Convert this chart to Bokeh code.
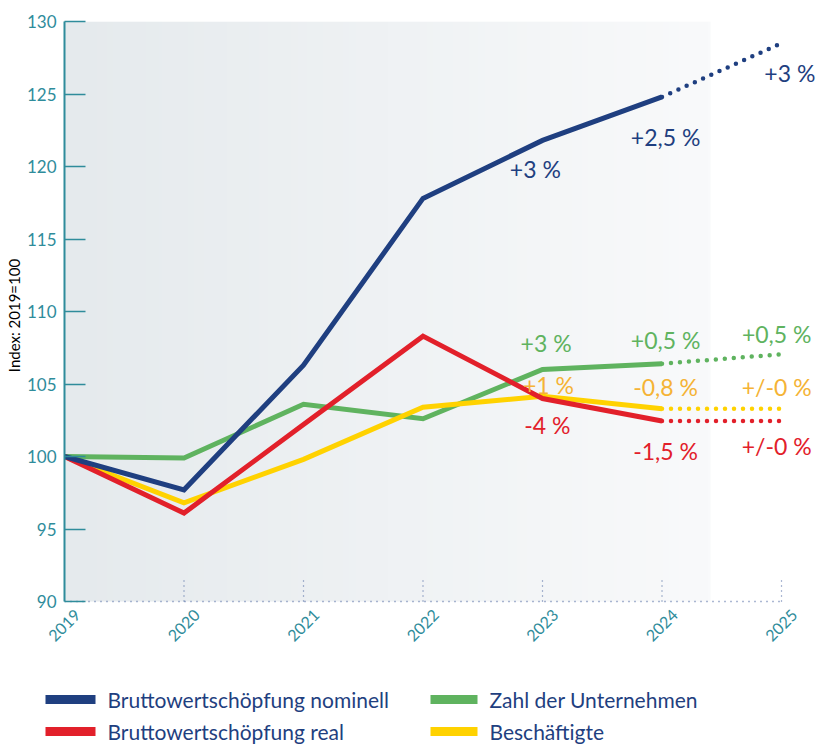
import numpy as np
from math import pi
from bokeh.plotting import figure
from bokeh.models import Range1d, FixedTicker, ColumnDataSource, LabelSet, Title
from bokeh.layouts import column
from bokeh.core.properties import value
from bokeh.embed import file_html
from bokeh.resources import INLINE

# ---------------- data ----------------
years = [2019, 2020, 2021, 2022, 2023, 2024, 2025]
year_labels = [str(y) for y in years]
bws_nominell = [100, 97.7, 106.3, 117.8, 121.8, 124.8, 128.5]
bws_real = [100, 96.1, 102.2, 108.3, 104.0, 102.45, 102.45]
unternehmen = [100, 99.9, 103.6, 102.6, 106.0, 106.4, 107.05]
beschaeftigte = [100, 96.8, 99.8, 103.4, 104.15, 103.3, 103.3]

series_names = ["Bruttowertschöpfung nominell", "Bruttowertschöpfung real",
                "Zahl der Unternehmen", "Beschäftigte"]
series_colors = ["#1f3f80", "#e2202a", "#5fb35f", "#ffd200"]
label_colors = ["#1f3f80", "#e2202a", "#5fb35f", "#f5b335"]

y_ticks = [90, 95, 100, 105, 110, 115, 120, 125, 130]

# annotation texts (growth rates) and where they sit
ann_text = ["+3 %", "+2,5 %", "+3 %",
            "-4 %", "-1,5 %", "+/-0 %",
            "+3 %", "+0,5 %", "+0,5 %",
            "+1 %", "-0,8 %", "+/-0 %"]
ann_series = [0, 0, 0, 1, 1, 1, 2, 2, 2, 3, 3, 3]
ann_x = [2022.94, 2024.03, 2025.07,
         2023.04, 2024.03, 2024.96,
         2023.03, 2024.03, 2024.96,
         2023.05, 2024.03, 2024.96]
ann_y = [119.85, 122.05, 126.45,
         102.15, 100.4, 100.75,
         107.8, 108.05, 108.45,
         104.95, 104.8, 104.8]

TEAL = "#2f8c9b"
FONT = "Lato"
W = 816
FRAME_LEFT = 64
FRAME_TOP = 21
PX_PER_YEAR = 119.5
PX_PER_UNIT = 14.5
y_lo, y_hi = y_ticks[0], y_ticks[-1]
x_start = years[0]
x_end = years[0] + (W - FRAME_LEFT) / PX_PER_YEAR

# ---------------- main chart ----------------
main_h = 609
y_bottom = y_hi - (main_h - FRAME_TOP) / PX_PER_UNIT
p = figure(width=W, height=main_h, x_range=Range1d(x_start, x_end),
           y_range=Range1d(y_bottom, y_hi),
           output_backend="svg", toolbar_location=None,
           min_border_left=FRAME_LEFT, min_border_right=0, min_border_top=FRAME_TOP,
           min_border_bottom=0)
p.outline_line_color = None
p.xgrid.grid_line_color = None
p.ygrid.grid_line_color = None
p.background_fill_color = "white"
p.border_fill_color = "white"
p.frame_align = False
p.xaxis.visible = False

# gradient panel
n = 200
c0 = np.array([229, 234, 237])
c1 = np.array([249, 250, 251])
t = np.linspace(0, 1, n)
cols = (c0[None, :] * (1 - t[:, None]) + c1[None, :] * t[:, None]).astype(np.uint32)
img = np.zeros((1, n), dtype=np.uint32)
view = img.view(dtype=np.uint8).reshape((1, n, 4))
view[0, :, 0] = cols[:, 0]
view[0, :, 1] = cols[:, 1]
view[0, :, 2] = cols[:, 2]
view[0, :, 3] = 255
p.image_rgba(image=[img], x=x_start, y=y_lo, dw=(710 - FRAME_LEFT) / PX_PER_YEAR,
             dh=y_hi - y_lo)

# y axis
p.yaxis.ticker = FixedTicker(ticks=y_ticks)
p.yaxis.bounds = (y_lo, y_hi)
p.yaxis.axis_line_color = TEAL
p.yaxis.axis_line_width = 2
p.yaxis.major_tick_in = 21
p.yaxis.major_tick_out = 0
p.yaxis.major_tick_line_color = TEAL
p.yaxis.major_tick_line_width = 1.5
p.yaxis.minor_tick_line_color = None
p.yaxis.major_label_text_color = TEAL
p.yaxis.major_label_text_font = FONT
p.yaxis.major_label_text_font_size = "17px"
p.yaxis.major_label_standoff = 8

p.add_layout(Title(text="Index: 2019=100", align="center", offset=75,
                   text_font=FONT, text_font_size="15px", text_font_style="normal",
                   text_color="black", standoff=2), "left")

# x axis: dotted baseline and dotted tick marks
p.segment(x0=[years[0]], y0=[y_lo], x1=[years[-1]], y1=[y_lo],
          line_color="#3d5a99", line_width=1.5, line_dash="1 5", line_alpha=0.85)
p.segment(x0=years[1:], y0=[y_lo] * 6, x1=years[1:], y1=[y_lo + 21 / PX_PER_UNIT] * 6,
          line_color="#3d5a99", line_width=1.2, line_dash="1 4", line_alpha=0.85)

all_series = [bws_nominell, bws_real, unternehmen, beschaeftigte]
order = [2, 3, 1, 0]
for i in order:
    vals = all_series[i]
    p.line(years[:6], vals[:6], line_color=series_colors[i], line_width=5, line_join="miter")
    p.line(years[5:], vals[5:], line_color=series_colors[i], line_width=4.5,
           line_dash="0 9", line_cap="round")

src = ColumnDataSource(dict(x=ann_x, y=ann_y, text=ann_text,
                            color=[label_colors[s] for s in ann_series]))
p.add_layout(LabelSet(x="x", y="y", text="text", source=src, text_color="color",
                      text_align="center", text_baseline="middle",
                      text_font=value(FONT), text_font_size=value("23px")))

# ---------------- year labels + legend panel (same year scale) ----------------
leg_h = 745 - main_h
x0 = years[0] - FRAME_LEFT / PX_PER_YEAR


def px_to_x(px):
    return x0 + px / PX_PER_YEAR


leg = figure(width=W, height=leg_h, x_range=Range1d(x0, x_end), y_range=Range1d(leg_h, 0),
             output_backend="svg", toolbar_location=None,
             min_border_left=0, min_border_right=0, min_border_top=0, min_border_bottom=0)
leg.axis.visible = False
leg.grid.visible = False
leg.outline_line_color = None
leg.frame_align = False

leg.text(x=years, y=[625 - main_h] * len(years), text=year_labels, angle=pi / 4,
         text_align="center", text_baseline="middle", text_color=TEAL,
         text_font=value(FONT), text_font_size=value("16px"))

col_px = [45, 45, 430, 430]
row_px = [699, 731, 699, 731]
bar_w = [50, 50, 47, 47]
leg_order = [0, 1, 2, 3]
leg.quad(left=[px_to_x(c) for c in col_px],
         right=[px_to_x(c + w) for c, w in zip(col_px, bar_w)],
         top=[r - main_h - 4.5 for r in row_px], bottom=[r - main_h + 4.5 for r in row_px],
         fill_color=[series_colors[i] for i in leg_order], line_color=None)
leg.text(x=[px_to_x(c + w + 12) for c, w in zip(col_px, bar_w)],
         y=[r - main_h for r in row_px],
         text=[series_names[i] for i in leg_order],
         text_color="#1f3f80", text_font=value(FONT), text_font_size=value("21px"),
         text_baseline="middle", text_align="left")

layout = column(p, leg, spacing=0)
open("out.html", "w").write(file_html(layout, INLINE))
